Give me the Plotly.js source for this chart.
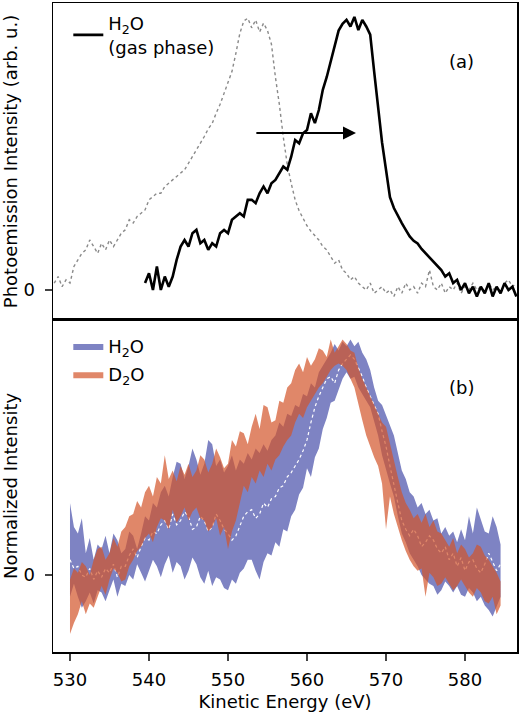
<!DOCTYPE html>
<html>
<head>
<meta charset="utf-8">
<script src="https://cdn.plot.ly/plotly-3.0.1.min.js"></script>
<style>
  html, body { margin: 0; padding: 0; background: #fff; }
  #chart { width: 520px; height: 712px; }
</style>
</head>
<body>
<div id="chart"></div>
<script>
// (a) gas phase spectrum and the shifted liquid spectrum (grey dotted)
const gasEnergy = [
  539.5, 540, 540.5, 541, 541.5, 542, 542.5, 543, 543.5, 544,
  544.5, 545, 545.5, 546, 546.5, 547, 547.5, 548, 548.5, 549,
  549.5, 550, 550.5, 551, 551.5, 552, 552.5, 553, 553.5, 554,
  554.5, 555, 555.5, 556, 556.5, 557, 557.5, 558, 558.5, 559,
  559.5, 560, 560.5, 561, 561.5, 562, 562.5, 563, 563.5, 564,
  564.5, 565, 565.5, 566, 566.5, 567, 567.5, 568, 568.5, 569,
  569.5, 570, 570.5, 571, 571.5, 572, 572.5, 573, 573.5, 574,
  574.5, 575, 575.5, 576, 576.5, 577, 577.5, 578, 578.5, 579,
  579.5, 580, 580.5, 581, 581.5, 582, 582.5, 583, 583.5, 584,
  584.5, 585, 585.5, 586, 586.5
];
const gasIntensity = [
  0.025, 0.061, 0.000, 0.086, 0.000, 0.049, 0.012, 0.049, 0.110, 0.159,
  0.183, 0.159, 0.208, 0.220, 0.171, 0.183, 0.147, 0.171, 0.159, 0.208,
  0.220, 0.208, 0.257, 0.269, 0.281, 0.269, 0.330, 0.330, 0.318, 0.354,
  0.379, 0.354, 0.391, 0.403, 0.427, 0.452, 0.440, 0.488, 0.549, 0.537,
  0.574, 0.586, 0.647, 0.611, 0.659, 0.733, 0.780, 0.840, 0.900, 0.950,
  0.975, 0.989, 0.965, 1.000, 0.952, 0.989, 0.965, 0.935, 0.800, 0.660,
  0.540, 0.440, 0.340, 0.300, 0.270, 0.245, 0.220, 0.196, 0.180, 0.170,
  0.150, 0.134, 0.118, 0.105, 0.086, 0.073, 0.049, 0.061, 0.025, 0.037,
  0.000, 0.025, -0.012, 0.012, -0.024, 0.012, -0.012, 0.025, -0.024, 0.012,
  -0.012, 0.025, 0.000, 0.012, -0.024
];

const liquidEnergy = [
  528, 528.5, 529, 529.5, 530, 530.5, 531, 531.5, 532, 532.5,
  533, 533.5, 534, 534.5, 535, 535.5, 536, 536.5, 537, 537.5,
  538, 538.5, 539, 539.5, 540, 540.5, 541, 541.5, 542, 542.5,
  543, 543.5, 544, 544.5, 545, 545.5, 546, 546.5, 547, 547.5,
  548, 548.5, 549, 549.5, 550, 550.5, 551, 551.5, 552, 552.5,
  553, 553.5, 554, 554.5, 555, 555.5, 556, 556.5, 557, 557.5,
  558, 558.5, 559, 559.5, 560, 560.5, 561, 561.5, 562, 562.5,
  563, 563.5, 564, 564.5, 565, 565.5, 566, 566.5, 567, 567.5,
  568, 568.5, 569, 569.5, 570, 570.5, 571, 571.5, 572, 572.5,
  573, 573.5, 574, 574.5, 575, 575.5, 576, 576.5, 577, 577.5,
  578, 578.5, 579, 579.5, 580, 580.5, 581, 581.5, 582, 582.5,
  583, 583.5, 584, 584.5, 585, 585.5, 586, 586.5
];
const liquidIntensity = [
  0.025, 0.049, 0.012, 0.037, 0.025, 0.086, 0.110, 0.134, 0.147, 0.183,
  0.159, 0.134, 0.171, 0.147, 0.183, 0.159, 0.183, 0.208, 0.220, 0.257,
  0.245, 0.269, 0.281, 0.293, 0.330, 0.342, 0.354, 0.354, 0.379, 0.391,
  0.403, 0.415, 0.427, 0.440, 0.464, 0.488, 0.513, 0.537, 0.562, 0.590,
  0.610, 0.647, 0.680, 0.720, 0.757, 0.800, 0.867, 0.940, 0.985, 0.995,
  0.960, 0.989, 0.945, 0.977, 0.950, 0.900, 0.780, 0.680, 0.560, 0.460,
  0.390, 0.330, 0.290, 0.260, 0.235, 0.215, 0.200, 0.183, 0.159, 0.147,
  0.122, 0.098, 0.110, 0.073, 0.061, 0.037, 0.049, 0.025, 0.012, 0.000,
  0.025, -0.012, 0.000, 0.012, -0.012, 0.000, -0.024, 0.012, -0.012, 0.025,
  0.000, 0.012, -0.012, 0.025, 0.012, 0.073, 0.012, 0.000, 0.025, -0.012,
  0.012, 0.000, 0.025, -0.012, 0.012, 0.000, 0.025, 0.000, 0.012, -0.012,
  0.025, 0.000, 0.012, -0.012, 0.025, 0.037, 0.012, 0.025
];

// arrow showing the shift (from, to)
const shiftFrom = [553.4, 0.575];
const shiftTo = [566.2, 0.575];

// (b) normalized spread of H2O and D2O spectra
const bandEnergy = [
  530, 530.5, 531, 531.5, 532, 532.5, 533, 533.5, 534, 534.5,
  535, 535.5, 536, 536.5, 537, 537.5, 538, 538.5, 539, 539.5,
  540, 540.5, 541, 541.5, 542, 542.5, 543, 543.5, 544, 544.5,
  545, 545.5, 546, 546.5, 547, 547.5, 548, 548.5, 549, 549.5,
  550, 550.5, 551, 551.5, 552, 552.5, 553, 553.5, 554, 554.5,
  555, 555.5, 556, 556.5, 557, 557.5, 558, 558.5, 559, 559.5,
  560, 560.5, 561, 561.5, 562, 562.5, 563, 563.5, 564, 564.5,
  565, 565.5, 566, 566.5, 567, 567.5, 568, 568.5, 569, 569.5,
  570, 570.5, 571, 571.5, 572, 572.5, 573, 573.5, 574, 574.5,
  575, 575.5, 576, 576.5, 577, 577.5, 578, 578.5, 579, 579.5,
  580, 580.5, 581, 581.5, 582, 582.5, 583, 583.5, 584, 584.5
];
const h2oUpper = [
  0.33, 0.22, 0.19, 0.26, 0.10, 0.17, 0.07, 0.14, 0.12, 0.18,
  0.10, 0.19, 0.16, 0.10, 0.12, 0.20, 0.18, 0.12, 0.19, 0.27,
  0.25, 0.33, 0.31, 0.38, 0.41, 0.36, 0.45, 0.52, 0.51, 0.44,
  0.50, 0.58, 0.53, 0.46, 0.51, 0.62, 0.60, 0.50, 0.53, 0.47,
  0.50, 0.55, 0.48, 0.53, 0.51, 0.56, 0.53, 0.58, 0.56, 0.60,
  0.57, 0.62, 0.64, 0.70, 0.68, 0.74, 0.73, 0.78, 0.77, 0.83,
  0.82, 0.88, 0.86, 0.93, 0.96, 0.99, 1.02, 1.06, 1.03, 1.07,
  1.05, 1.08, 1.05, 1.07, 1.02, 0.99, 0.94, 0.86, 0.80, 0.78,
  0.73, 0.69, 0.64, 0.56, 0.48, 0.44, 0.38, 0.36, 0.31, 0.33,
  0.28, 0.30, 0.25, 0.26, 0.19, 0.22, 0.18, 0.20, 0.15, 0.21,
  0.16, 0.27, 0.19, 0.31, 0.25, 0.20, 0.19, 0.27, 0.22, 0.14
];
const h2oLower = [
  -0.10, -0.04, -0.10, -0.15, -0.12, -0.08, -0.13, -0.07, -0.08, -0.12,
  -0.07, -0.02, -0.10, -0.04, -0.05, 0.00, -0.02, 0.05, 0.01, -0.03,
  0.02, 0.07, 0.04, -0.01, 0.05, 0.09, 0.01, 0.06, 0.04, -0.02,
  0.02, 0.08, 0.05, -0.01, -0.04, 0.02, -0.05, -0.01, -0.02, -0.06,
  -0.07, -0.02, -0.04, 0.01, 0.03, 0.07, 0.07, 0.02, -0.02, 0.06,
  0.10, 0.09, 0.15, 0.13, 0.21, 0.20, 0.27, 0.30, 0.37, 0.40,
  0.49, 0.45, 0.54, 0.58, 0.67, 0.72, 0.79, 0.80, 0.85, 0.90,
  0.93, 0.90, 0.91, 0.86, 0.83, 0.80, 0.77, 0.70, 0.64, 0.55,
  0.48, 0.42, 0.36, 0.27, 0.19, 0.15, 0.10, 0.07, 0.04, 0.00,
  -0.02, -0.04, -0.05, -0.09, -0.07, -0.03, -0.05, -0.08, -0.05, -0.09,
  -0.10, -0.06, -0.08, -0.12, -0.10, -0.14, -0.16, -0.19, -0.15, -0.10
];
const h2oMean = [
  0.07, 0.03, 0.04, 0.00, -0.01, 0.03, -0.02, 0.02, -0.01, 0.03,
  0.01, 0.05, -0.01, 0.04, 0.04, 0.09, 0.12, 0.08, 0.13, 0.17,
  0.16, 0.20, 0.19, 0.23, 0.25, 0.21, 0.28, 0.23, 0.25, 0.29,
  0.27, 0.21, 0.22, 0.27, 0.25, 0.20, 0.22, 0.28, 0.25, 0.21,
  0.19, 0.16, 0.18, 0.23, 0.27, 0.29, 0.30, 0.26, 0.28, 0.33,
  0.31, 0.35, 0.36, 0.40, 0.41, 0.45, 0.47, 0.50, 0.53, 0.57,
  0.62, 0.70, 0.77, 0.82, 0.86, 0.90, 0.91, 0.88, 0.94, 0.97,
  0.99, 1.01, 0.99, 0.95, 0.91, 0.86, 0.82, 0.78, 0.74, 0.66,
  0.59, 0.50, 0.41, 0.33, 0.25, 0.21, 0.18, 0.21, 0.18, 0.13,
  0.15, 0.18, 0.16, 0.12, 0.10, 0.13, 0.07, 0.10, 0.04, 0.08,
  0.02, 0.06, 0.07, 0.03, 0.01, 0.05, 0.10, 0.06, 0.02, 0.05
];
const d2oUpper = [
  -0.02, 0.03, 0.01, 0.06, 0.04, 0.00, 0.07, 0.12, 0.13, 0.07,
  0.10, 0.17, 0.13, 0.20, 0.22, 0.27, 0.28, 0.34, 0.31, 0.38,
  0.41, 0.36, 0.45, 0.42, 0.55, 0.44, 0.48, 0.43, 0.50, 0.46,
  0.51, 0.45, 0.48, 0.55, 0.53, 0.47, 0.51, 0.58, 0.54, 0.49,
  0.51, 0.62, 0.59, 0.66, 0.65, 0.60, 0.68, 0.74, 0.67, 0.78,
  0.77, 0.70, 0.71, 0.80, 0.79, 0.86, 0.88, 0.94, 0.97, 0.93,
  1.00, 0.96, 0.99, 1.04, 1.03, 1.00, 1.08, 1.02, 1.05, 1.08,
  1.06, 1.03, 1.02, 0.95, 0.90, 0.86, 0.82, 0.78, 0.74, 0.70,
  0.68, 0.60, 0.53, 0.45, 0.38, 0.33, 0.30, 0.26, 0.28, 0.24,
  0.28, 0.22, 0.25, 0.20, 0.19, 0.16, 0.13, 0.17, 0.10, 0.14,
  0.12, 0.08, 0.10, 0.14, 0.13, 0.09, 0.07, 0.04, 0.01, -0.03
];
const d2oLower = [
  -0.27, -0.22, -0.18, -0.12, -0.18, -0.13, -0.15, -0.10, -0.05, -0.09,
  -0.02, 0.03, 0.01, -0.03, -0.02, 0.04, 0.07, 0.11, 0.13, 0.17,
  0.19, 0.15, 0.22, 0.26, 0.25, 0.21, 0.30, 0.24, 0.27, 0.31,
  0.25, 0.29, 0.31, 0.26, 0.25, 0.20, 0.22, 0.26, 0.18, 0.22,
  0.12, 0.20, 0.25, 0.33, 0.41, 0.38, 0.45, 0.42, 0.48, 0.45,
  0.51, 0.48, 0.53, 0.55, 0.59, 0.62, 0.64, 0.70, 0.74, 0.72,
  0.77, 0.80, 0.83, 0.86, 0.88, 0.91, 0.94, 0.96, 0.97, 0.96,
  0.94, 0.90, 0.86, 0.78, 0.71, 0.64, 0.59, 0.54, 0.50, 0.42,
  0.21, 0.36, 0.28, 0.22, 0.16, 0.11, 0.07, 0.04, 0.02, 0.03,
  -0.10, 0.01, -0.01, -0.05, -0.04, -0.01, -0.04, -0.07, -0.05, -0.02,
  -0.05, -0.08, -0.10, -0.06, -0.08, -0.12, -0.13, -0.10, -0.18, -0.14
];

const xTicks = [530, 540, 550, 560, 570, 580];

// closed outline (upper edge, then lower edge backwards) for fill: 'toself'
function band(x, upper, lower) {
    return {
        x: x.concat(x.slice().reverse()),
        y: upper.concat(lower.slice().reverse())
    };
}

const h2oBand = band(bandEnergy, h2oUpper, h2oLower);
const d2oBand = band(bandEnergy, d2oUpper, d2oLower);

const font = { family: "DejaVu Sans, sans-serif", size: 18, color: "#000" };

const traces = [
    {
        x: liquidEnergy, y: liquidIntensity, xaxis: "x", yaxis: "y",
        mode: "lines", line: { color: "#8a8a8a", width: 1.4, dash: "dot" },
        showlegend: false
    },
    {
        x: gasEnergy, y: gasIntensity, xaxis: "x", yaxis: "y",
        mode: "lines", line: { color: "#000", width: 2.6 },
        name: "H<sub>2</sub>O<br>(gas phase)", legend: "legend"
    },
    {
        x: h2oBand.x, y: h2oBand.y, xaxis: "x2", yaxis: "y2",
        mode: "lines", fill: "toself", fillcolor: "rgb(126,131,195)",
        line: { width: 0, color: "rgb(126,131,195)" },
        name: "H<sub>2</sub>O", legend: "legend2", legendgroup: "h2o"
    },
    {
        x: bandEnergy, y: h2oMean, xaxis: "x2", yaxis: "y2",
        mode: "lines", line: { color: "#fff", width: 1.2, dash: "dot" },
        showlegend: false
    },
    {
        x: d2oBand.x, y: d2oBand.y, xaxis: "x2", yaxis: "y2",
        mode: "lines", fill: "toself", fillcolor: "rgba(211,84,41,0.7)",
        line: { width: 0, color: "rgba(211,84,41,0.7)" },
        name: "D<sub>2</sub>O", legend: "legend2", legendgroup: "d2o"
    }
];

const frame = {
    showline: true, mirror: true, linecolor: "#000", linewidth: 1.5,
    showgrid: false, zeroline: false
};
const split = 0.5116;

const layout = {
    width: 520,
    height: 712,
    margin: { l: 53, r: 3, t: 3, b: 60 },
    paper_bgcolor: "#fff",
    plot_bgcolor: "#fff",
    font: font,
    xaxis: Object.assign({}, frame, {
        domain: [0, 1], anchor: "y", range: [527.85, 586.58],
        showticklabels: false, ticks: ""
    }),
    yaxis: Object.assign({}, frame, {
        domain: [split, 1], anchor: "x", range: [-0.110, 1.051],
        tickvals: [0], ticktext: ["0"], ticks: "outside", ticklen: 7, tickwidth: 1.3,
        ticklabelstandoff: 6,
        title: { text: "Photoemission Intensity (arb. u.)", font: font, standoff: 4 }
    }),
    xaxis2: Object.assign({}, frame, {
        domain: [0, 1], anchor: "y2", range: [527.85, 586.58],
        tickvals: xTicks, ticks: "outside", ticklen: 7, tickwidth: 1.3,
        ticklabelstandoff: 4,
        title: { text: "Kinetic Energy (eV)", font: font, standoff: 6 }
    }),
    yaxis2: Object.assign({}, frame, {
        domain: [0, split], anchor: "x2", range: [-0.353, 1.170],
        tickvals: [0], ticktext: ["0"], ticks: "outside", ticklen: 7, tickwidth: 1.3,
        ticklabelstandoff: 6,
        title: { text: "Normalized Intensity", font: font, standoff: 4 }
    }),
    legend: {
        x: 0.033, y: 0.997, xanchor: "left", yanchor: "top",
        bgcolor: "rgba(0,0,0,0)", font: font
    },
    legend2: {
        x: 0.033, y: split - 0.012, xanchor: "left", yanchor: "top",
        bgcolor: "rgba(0,0,0,0)", font: font,
        traceorder: "grouped", tracegroupgap: 2
    },
    annotations: [
        {
            xref: "x", yref: "y", axref: "x", ayref: "y",
            x: shiftTo[0], y: shiftTo[1], ax: shiftFrom[0], ay: shiftFrom[1],
            showarrow: true, arrowhead: 2, arrowsize: 1.3, arrowwidth: 2,
            arrowcolor: "#000", text: ""
        },
        {
            xref: "x", yref: "y", x: 579.5, y: 0.835,
            text: "(a)", showarrow: false, font: font
        },
        {
            xref: "x2", yref: "y2", x: 579.5, y: 0.862,
            text: "(b)", showarrow: false, font: font
        }
    ]
};

Plotly.newPlot("chart", traces, layout, { staticPlot: true, displayModeBar: false });
</script>
</body>
</html>
